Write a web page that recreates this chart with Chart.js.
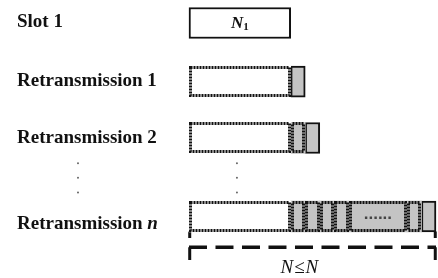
<!DOCTYPE html>
<html>
<head>
<meta charset="utf-8">
<script src="https://cdn.jsdelivr.net/npm/chart.js@4"></script>
<style>
  html, body { margin: 0; padding: 0; background: #fff; }
  #caja { width: 438px; height: 278px; position: relative; }
</style>
</head>
<body>
<div id="caja"><canvas id="grafico"></canvas></div>
<script>
// filas del diagrama, de arriba a abajo
const filas = ["Slot 1", "Retransmission 1", "Retransmission 2", "Retransmission n"];
const filaPos = [0, 1.02, 2, 3.365];
// largo de la primera transmision (N1)
const largoN1 = 7;
// tramos retransmitidos en cada fila de retransmision
const retx = [
  [1],
  [1, 1],
  [1, 1, 1, 1, 4, 1, 1],
];
const textoTramo = [[""], ["", ""], ["", "", "", "", "......", "", ""]];
// puntos verticales entre la fila 2 y la fila n
const puntosX = [-7.64, 3.3];
const puntosY = [2.44, 2.69, 2.95];
// llave bajo la ultima fila
const llaveY = 3.9;
const llaveFin = 4.12;
const llaveCorte = 3.74;
const llaveTexto = "N≤N";

const GRIS = "#c4c4c4";
const NEGRO = "#111";

// armar los tramos
const n1Primero = [{ x: [0, largoN1], y: filaPos[0] }];
const n1Repetido = filaPos.slice(1).map((p) => ({ x: [0, largoN1], y: p }));
let viejos = [],
  nuevos = [];
retx.forEach((tramos, i) => {
  let ini = largoN1;
  tramos.forEach((l, j) => {
    const punto = { x: [ini, ini + l], y: filaPos[i + 1], texto: textoTramo[i][j] };
    if (j == tramos.length - 1) nuevos.push(punto);
    else viejos.push(punto);
    ini += l;
  });
});
const totalN = largoN1 + retx[retx.length - 1].reduce((a, b) => a + b, 0);
const ultimaFila = filaPos[filaPos.length - 1];

let puntos = [];
puntosX.forEach((x) => puntosY.forEach((y) => puntos.push({ x: x, y: y })));

// borde punteado para los bloques ya enviados
const punteado = {
  id: "punteado",
  afterDatasetsDraw(chart) {
    const ctx = chart.ctx;
    chart.data.datasets.forEach((ds, i) => {
      if (!ds.punteado) return;
      chart.getDatasetMeta(i).data.forEach((bar) => {
        const { x, y, base, height } = bar.getProps(["x", "y", "base", "height"], true);
        const izq = Math.round(Math.min(x, base)),
          der = Math.round(Math.max(x, base)),
          arr = Math.round(y - height / 2),
          aba = Math.round(y + height / 2);
        ctx.save();
        ctx.strokeStyle = NEGRO;
        ctx.lineWidth = 3;
        ctx.setLineDash([2, 1]);
        ctx.strokeRect(izq + 1.5, arr + 1.5, der - izq - 3, aba - arr - 3);
        ctx.restore();
      });
    });
  },
};

const textos = {
  id: "textos",
  afterDraw(chart) {
    const ctx = chart.ctx;
    const ys = chart.scales.y;
    const xs = chart.scales.x;
    const ajuste = [4, 4, 5.5, 13];
    ctx.save();
    ctx.fillStyle = NEGRO;
    ctx.textBaseline = "alphabetic";
    ctx.textAlign = "left";
    filas.forEach((f, i) => {
      const y = ys.getPixelForValue(filaPos[i]) + ajuste[i];
      ctx.font = "bold 19px 'Liberation Serif'";
      if (f.endsWith(" n")) {
        const base = f.slice(0, -1);
        ctx.fillText(base, 17, y);
        const w = ctx.measureText(base).width;
        ctx.font = "italic bold 19px 'Liberation Serif'";
        ctx.fillText("n", 17 + w, y);
      } else {
        ctx.fillText(f, 17, y);
      }
    });
    // N1 dentro del primer bloque
    const b = chart.getDatasetMeta(0).data[0];
    const cx = (b.x + b.base) / 2;
    const cy = b.y;
    ctx.font = "italic bold 17px 'Liberation Serif'";
    const wN = ctx.measureText("N").width;
    ctx.font = "bold 11px 'Liberation Serif'";
    const w1 = ctx.measureText("1").width;
    let x0 = cx - (wN + w1) / 2;
    ctx.font = "italic bold 17px 'Liberation Serif'";
    ctx.fillText("N", x0, cy + 5);
    ctx.font = "bold 11px 'Liberation Serif'";
    ctx.fillText("1", x0 + wN, cy + 7);
    // texto de los tramos
    chart.data.datasets.forEach((ds, i) => {
      if (ds.label != "viejos") return;
      chart.getDatasetMeta(i).data.forEach((bar, j) => {
        const t = ds.data[j].texto;
        if (!t) return;
        ctx.font = "bold 17px 'Liberation Sans'";
        ctx.fillStyle = "#444";
        ctx.textAlign = "center";
        ctx.fillText(t, (bar.x + bar.base) / 2, bar.y + 3);
      });
    });
    // texto de la llave
    ctx.fillStyle = NEGRO;
    ctx.textAlign = "center";
    ctx.font = "italic 19px 'Liberation Serif'";
    ctx.letterSpacing = "1px";
    ctx.fillText(llaveTexto, xs.getPixelForValue(totalN * 0.449), ys.getPixelForValue(llaveY) + 26);
    ctx.restore();
  },
};

const trazo = (lbl, pts, extra) =>
  Object.assign(
    { type: "line", label: lbl, data: pts, borderColor: NEGRO, borderWidth: 3, pointRadius: 0 },
    extra || {}
  );

new Chart(document.getElementById("grafico"), {
  type: "bar",
  data: {
    datasets: [
      { label: "n1", data: n1Primero, backgroundColor: "#fff", borderColor: NEGRO, borderWidth: 2 },
      { label: "n1rep", data: n1Repetido, backgroundColor: "#fff", borderWidth: 0, punteado: true },
      { label: "viejos", data: viejos, backgroundColor: GRIS, borderWidth: 0, punteado: true },
      { label: "nuevos", data: nuevos, backgroundColor: GRIS, borderColor: NEGRO, borderWidth: 2 },
      {
        type: "scatter",
        label: "puntos",
        data: puntos,
        pointRadius: 1,
        pointBackgroundColor: "#666",
        pointBorderWidth: 0,
      },
      trazo("llave", [{ x: 0, y: llaveY }, { x: totalN, y: llaveY }], {
        borderWidth: 3.5,
        borderDash: [18, 8.5],
      }),
      trazo("llaveIzq", [{ x: 0.05, y: llaveY }, { x: 0.05, y: llaveFin }]),
      trazo("llaveDer", [{ x: totalN - 0.05, y: llaveY }, { x: totalN - 0.05, y: llaveFin }]),
      trazo("corteIzq", [{ x: 0.05, y: ultimaFila + 0.26 }, { x: 0.05, y: llaveCorte }]),
      trazo("corteDer", [{ x: totalN - 0.05, y: ultimaFila + 0.26 }, { x: totalN - 0.05, y: llaveCorte }]),
    ],
  },
  options: {
    indexAxis: "y",
    responsive: true,
    maintainAspectRatio: false,
    animation: false,
    layout: { padding: 0, autoPadding: false },
    plugins: { legend: { display: false }, tooltip: { enabled: false } },
    scales: {
      x: { type: "linear", min: -13.007, max: 17.138, display: false, offset: false },
      y: { type: "linear", min: -0.4, max: 4.435, reverse: true, display: false, offset: false },
    },
    datasets: { bar: { grouped: false, barThickness: 31, borderSkipped: false } },
  },
  plugins: [punteado, textos],
});
</script>
</body>
</html>
